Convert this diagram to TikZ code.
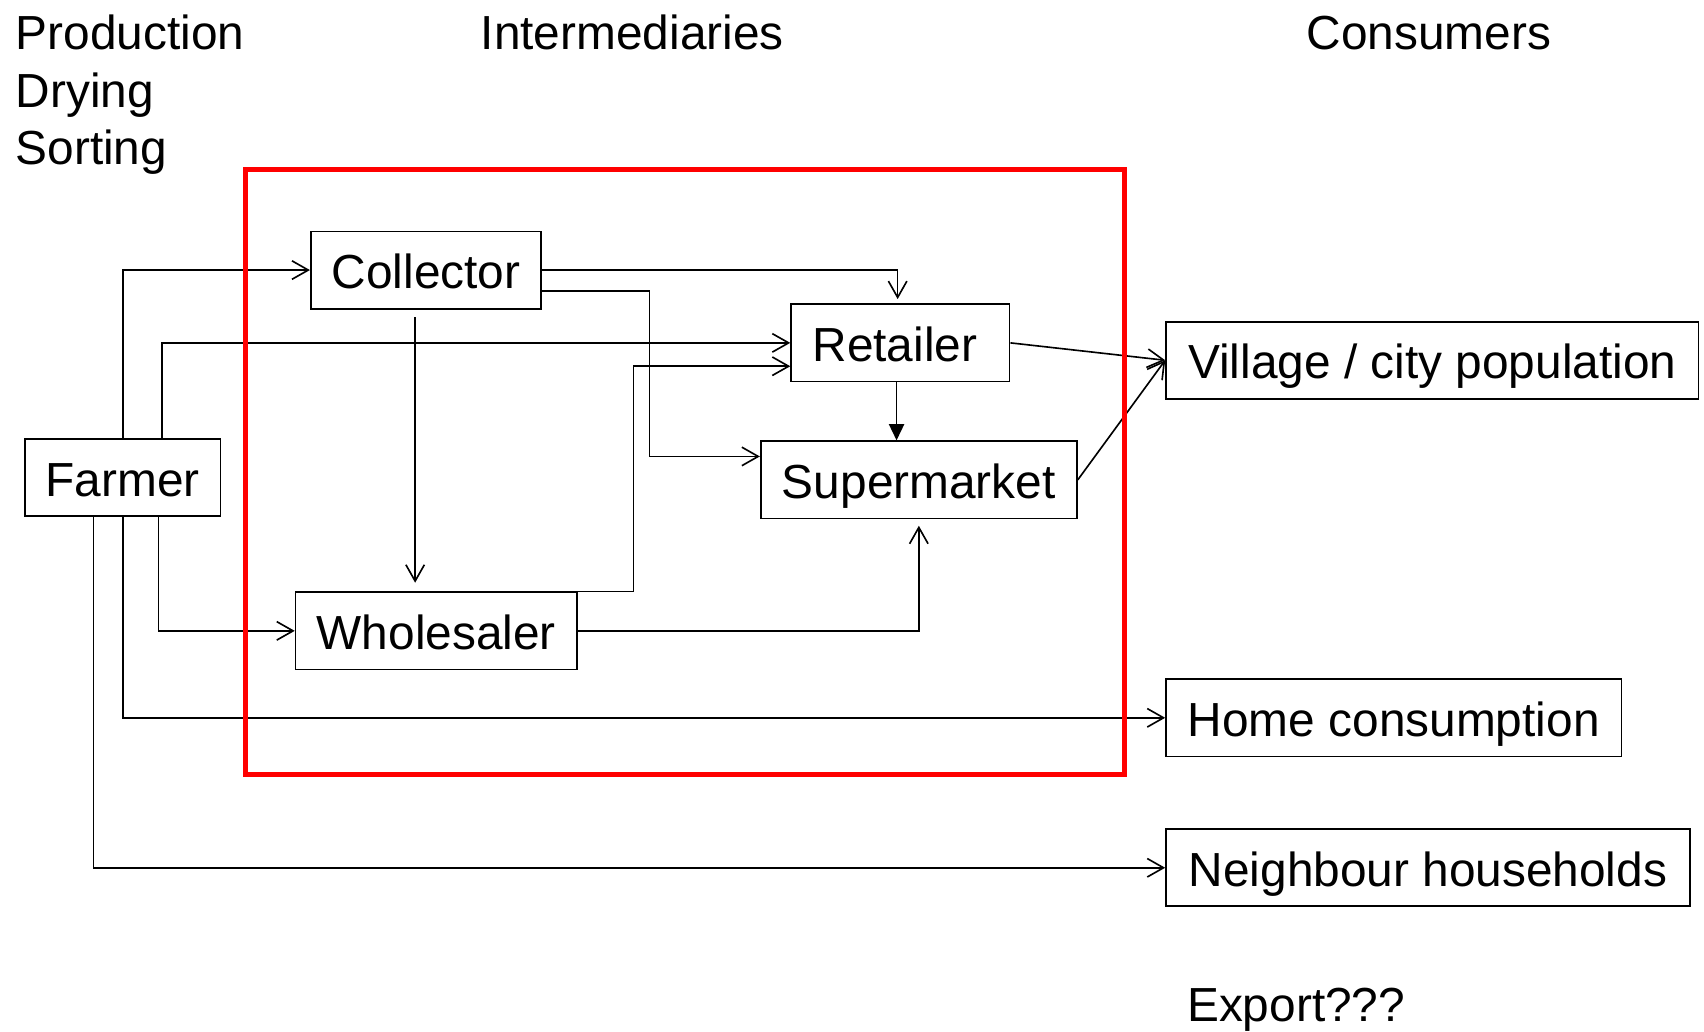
\documentclass[tikz,border=0pt]{standalone}
\usepackage{fontspec}
\setmainfont{Liberation Sans}
\usetikzlibrary{positioning}
\usetikzlibrary{arrows.meta}

\begin{document}
\begin{tikzpicture}[
    x=0.5pt, y=-0.5pt,
    every node/.style = {font=\fontsize{22}{26.5}\selectfont},
    actor/.style = {shape=rectangle, draw, line width=0.8pt, inner sep=0pt, minimum height=35.5pt, text height=17pt, text depth=0pt},
    heading/.style = {anchor=base west, inner sep=0pt},
    flow/.style = {line width=0.75pt, -{Straight Barb[length=7.5pt,width=8.5pt]}},
    push/.style = {line width=0.8pt, -{Triangle[length=7.5pt,width=7pt]}}
  ]
  \useasboundingbox (0,0) rectangle (1568,949);

  % column headings
  \node[heading] (production) at (14,45.75) {Production};
  \node[heading] (drying) at (14,98.75) {Drying};
  \node[heading] (sorting) at (14,151.75) {Sorting};
  \node[heading] (intermediaries) at (442,45.75) {Intermediaries};
  \node[heading] (consumers) at (1202,45.75) {Consumers};

  % actors
  \node[actor, minimum width=90pt] (farmer) at (113,439.5) {Farmer};
  \node[actor, minimum width=106pt] (collector) at (392,248.5) {Collector};
  \node[actor, minimum width=100.5pt] (retailer) at (828.5,315.5) {Retailer\kern5pt};
  \node[actor, minimum width=145.5pt] (supermarket) at (845.5,441.5) {Supermarket};
  \node[actor, minimum width=129.5pt] (wholesaler) at (401.5,580.5) {Wholesaler};
  \node[actor, minimum width=245pt] (village) at (1318,331.5) {Village / city population};
  \node[actor, minimum width=209.5pt] (home) at (1282.5,660.5) {Home consumption};
  \node[actor, minimum width=241pt] (neighbour) at (1314,798.5) {Neighbour households};
  \node[heading] (export) at (1092,940) {Export???};

  % from the farmer
  \draw[flow] (farmer.north) |- (collector.west);
  \draw[flow] ([xshift=18pt]farmer.north) |- (retailer.west);
  \draw[flow] ([xshift=16.5pt]farmer.south) |- (wholesaler.west);
  \draw[flow] (farmer.south) |- (home.west);
  \draw[flow] ([xshift=-13.5pt]farmer.south) |- (neighbour.west);

  % between intermediaries
  \draw[flow, shorten >=2pt] (collector.east) -| ([xshift=-1.25pt]retailer.north);
  \draw[flow] ([yshift=-9.75pt]collector.east) -- ++(99,0) |- ([yshift=10.75pt]supermarket.west);
  \coordinate (drop) at ([xshift=-5pt, yshift=-3.5pt]collector.south);
  \draw[flow, shorten >=4pt] (drop) -- (drop |- wholesaler.north);
  \draw[flow] ([xshift=36.25pt]wholesaler.north) -- ++(109,0) |- ([yshift=-10.75pt]retailer.west);
  \draw[flow, shorten >=3pt] (wholesaler.east) -| (supermarket.south);
  \coordinate (down) at ([xshift=-1.75pt]retailer.south);
  \draw[push] (down) -- (down |- supermarket.north);

  % to the consumers
  \draw[flow] (retailer.east) -- (village.west);
  \draw[flow] (supermarket.east) -- (village.west);

  % intermediaries frame
  \draw[red, line width=2.2pt] (226,156) rectangle (1035,713);
\end{tikzpicture}
\end{document}
